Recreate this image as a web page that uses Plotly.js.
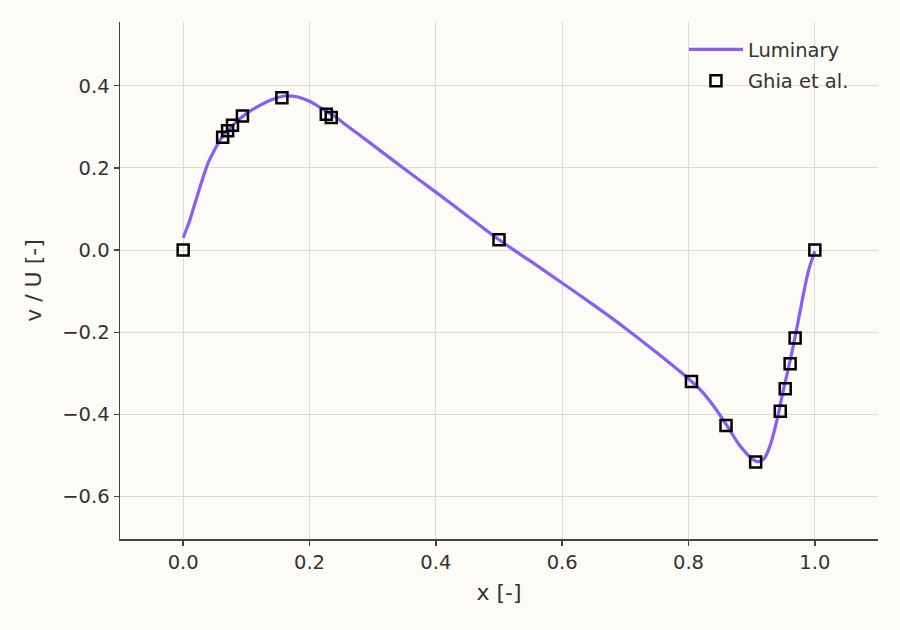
<!DOCTYPE html>
<html>
<head>
<meta charset="utf-8">
<script src="https://cdn.plot.ly/plotly-3.0.1.min.js"></script>
<style>html,body{margin:0;padding:0;background:#fcfbf5;}#chart{width:900px;height:630px;}</style>
</head>
<body>
<div id="chart"></div>
<script>
// Luminary simulation, v/U along horizontal centreline
const lumX = [0, 0.005, 0.01, 0.02, 0.03, 0.04, 0.05, 0.0625, 0.08, 0.1, 0.12, 0.14, 0.16, 0.18, 0.2, 0.22, 0.24, 0.26, 0.3, 0.35, 0.4, 0.45, 0.5, 0.55, 0.6, 0.65, 0.7, 0.75, 0.8, 0.82, 0.84, 0.86, 0.88, 0.9, 0.91, 0.92, 0.93, 0.94, 0.95, 0.96, 0.97, 0.98, 0.99, 1.0];
const lumV = [0.03, 0.05, 0.07, 0.12, 0.17, 0.214, 0.245, 0.277, 0.306, 0.332, 0.351, 0.366, 0.375, 0.373, 0.362, 0.344, 0.325, 0.302, 0.256, 0.198, 0.141, 0.083, 0.025, -0.027, -0.08, -0.134, -0.19, -0.25, -0.313, -0.342, -0.38, -0.425, -0.473, -0.507, -0.515, -0.507, -0.472, -0.414, -0.342, -0.275, -0.202, -0.122, -0.05, -0.003];
// Ghia et al. reference data
const ghiaX = [1.0000, 0.9688, 0.9609, 0.9531, 0.9453, 0.9063, 0.8594, 0.8047, 0.5000, 0.2344, 0.2266, 0.1563, 0.0938, 0.0781, 0.0703, 0.0625, 0.0000];
const ghiaV = [0.00000, -0.21388, -0.27669, -0.33714, -0.39188, -0.51550, -0.42665, -0.31966, 0.02526, 0.32235, 0.33075, 0.37095, 0.32627, 0.30353, 0.29012, 0.27485, 0.00000];
const xTicks = [0, 0.2, 0.4, 0.6, 0.8, 1.0];
const yTicks = [-0.6, -0.4, -0.2, 0.0, 0.2, 0.4];

const font = 'DejaVu Sans, sans-serif';
const txt = '#333333';
const data = [
  {x: lumX, y: lumV, mode: 'lines', name: 'Luminary', legendgroup: 'a',
   line: {color: '#8b5cf6', width: 3.2, shape: 'spline', smoothing: 0.8}},
  {x: ghiaX, y: ghiaV, mode: 'markers', name: 'Ghia et al.', legendgroup: 'b',
   marker: {symbol: 'square-open', size: 11, color: '#000000', line: {width: 2.5, color: '#000000'}}}
];
const axisCommon = {
  showline: true, linecolor: '#444444', linewidth: 1.5,
  ticks: 'outside', ticklen: 5, tickwidth: 1.5, tickcolor: '#444444',
  showgrid: true, gridcolor: '#dcdcd5', gridwidth: 1,
  zeroline: false, mirror: false,
  tickfont: {family: font, size: 19.5, color: txt},
  tickformat: '.1f'
};
const layout = {
  width: 900, height: 630,
  paper_bgcolor: '#fcfbf5', plot_bgcolor: '#fcfbf5',
  margin: {l: 120, r: 22, t: 22, b: 91},
  font: {family: font, color: txt},
  showlegend: true,
  legend: {x: 0.744, xanchor: 'left', y: 0.984, yanchor: 'top', bgcolor: 'rgba(0,0,0,0)',
    font: {family: font, size: 19.5, color: txt}, traceorder: 'grouped', tracegroupgap: 3, itemwidth: 54},
  xaxis: Object.assign({}, axisCommon, {range: [-0.1, 1.1], tickvals: xTicks,
    title: {text: 'x [-]', font: {family: font, size: 22, color: txt}, standoff: 11}}),
  yaxis: Object.assign({}, axisCommon, {range: [-0.703, 0.555], tickvals: yTicks,
    title: {text: 'v / U [-]', font: {family: font, size: 22, color: txt}, standoff: 14}})
};
Plotly.newPlot('chart', data, layout, {displayModeBar: false, staticPlot: true});
</script>
</body>
</html>
